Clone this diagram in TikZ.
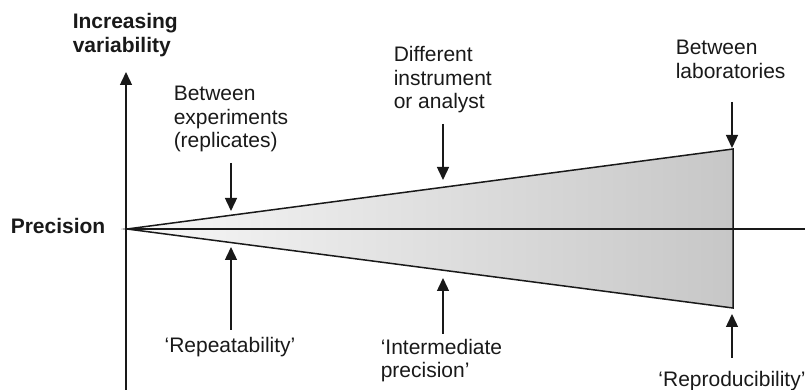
\documentclass[tikz,border=0pt]{standalone}
\usepackage{fontspec}
\setmainfont{Liberation Sans}
\usetikzlibrary{arrows.meta}
\begin{document}
\begin{tikzpicture}[x=1pt,y=-1pt,
  line width=1.5pt, draw=black!90,
  lbl/.style={inner sep=0pt, align=left, text=black!90, font=\fontsize{21}{23.5}\selectfont},
  pointer/.style={-{Triangle[length=13pt,width=12pt]}, line width=1.4pt, draw=black!90}]
\useasboundingbox (0,0) rectangle (807,390);
% geometry
\coordinate (apex) at (127,229);
\coordinate (tr) at (733,149);
\coordinate (br) at (733,308);
\coordinate (hend) at (805,229);
\coordinate (vb) at (126,392);
\coordinate (vt) at (126,72);
% cone
\shade[left color=black!3, right color=black!22] (apex) -- (tr) -- (br) -- cycle;
\draw[line join=miter] (apex) -- (tr) -- (br) -- cycle;
\draw (apex) -- (hend);
\draw[pointer] (vb) -- (vt);
% labels (base = baseline of the last line)
\node[lbl, anchor=base west] (incr) at (72,52.5) {\bfseries Increasing\\\bfseries variability};
\node[lbl, anchor=base west] (prec) at (10,234) {\bfseries Precision};
\node[lbl, anchor=base west] (bexp) at (173,148) {Between\\experiments\\(replicates)};
\node[lbl, anchor=base west] (diff) at (393,109) {Different\\instrument\\or analyst};
\node[lbl, anchor=base west] (blab) at (675,78.5) {Between\\laboratories};
\node[lbl, anchor=base] (rep) at (230,353) {‘Repeatability’};
\node[lbl, anchor=base west] (inter) at (380,377.5) {‘Intermediate\\precision’};
\node[lbl, anchor=base] (repro) at (732,387) {‘Reproducibility’};
% arrows
\coordinate (a1s) at (231,163); \coordinate (a1e) at (231,211);
\coordinate (a2s) at (231,330); \coordinate (a2e) at (231,247);
\coordinate (a3s) at (443,124); \coordinate (a3e) at (443,180);
\coordinate (a4s) at (443,334); \coordinate (a4e) at (443,278);
\coordinate (a5s) at (732,102); \coordinate (a5e) at (732,148);
\coordinate (a6s) at (732,358); \coordinate (a6e) at (732,314);
\draw[pointer] (a1s) -- (a1e);
\draw[pointer] (a2s) -- (a2e);
\draw[pointer] (a3s) -- (a3e);
\draw[pointer] (a4s) -- (a4e);
\draw[pointer] (a5s) -- (a5e);
\draw[pointer] (a6s) -- (a6e);
\end{tikzpicture}
\end{document}
